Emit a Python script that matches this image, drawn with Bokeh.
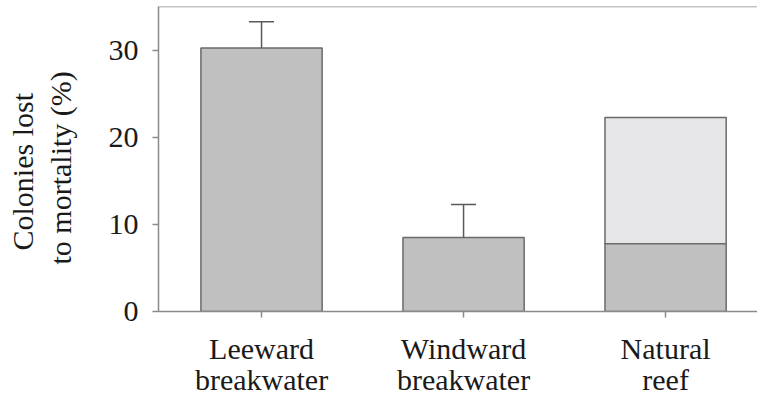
from bokeh.plotting import figure
from bokeh.models import Range1d, FixedTicker, Span, LinearAxis, Title
from bokeh.embed import file_html
from bokeh.resources import INLINE

# ---- data ----
cat_line1 = ["Leeward", "Windward", "Natural"]
cat_line2 = ["breakwater", "breakwater", "reef"]
positions = [0, 1, 2]
values = [30.3, 8.5, 7.8]          # dark (main) bar heights
errors = [3.0, 3.8, 0.0]           # upper error (SE)
reef_total = [22.3]                # natural reef stacked total
reef_pos = [2]
y_ticks = [0, 10, 20, 30]
y_title = ["Colonies lost", "to mortality (%)"]

FONT = "Liberation Serif"
AX = "#8a8a8a"
EDGE = "#6a6a6a"
TXT = "#1a1a1a"
Y_END = 35.06

p = figure(width=757, height=404, output_backend="svg", toolbar_location=None,
           x_range=Range1d(-0.51, 2.455), y_range=Range1d(0, Y_END),
           min_border_left=158, min_border_top=6, min_border_right=0, min_border_bottom=93)
p.outline_line_color = None
p.grid.grid_line_color = None
p.background_fill_color = "white"

# light stacked portion (natural reef)
p.vbar(x=reef_pos, bottom=[values[2]], top=reef_total, width=0.6,
       fill_color="#e6e6e8", line_color=EDGE, line_width=1.5)
# main bars
p.vbar(x=positions, bottom=0, top=values, width=0.6,
       fill_color="#c0c0c0", line_color=EDGE, line_width=1.5)

# error bars
ex = [x for x, e in zip(positions, errors) if e > 0]
ev = [v for v, e in zip(values, errors) if e > 0]
ee = [v + e for v, e in zip(values, errors) if e > 0]
p.segment(x0=ex, y0=ev, x1=ex, y1=ee, line_color="#5a5a5a", line_width=1.5)
p.segment(x0=[x - 0.062 for x in ex], y0=ee, x1=[x + 0.062 for x in ex], y1=ee,
          line_color="#5a5a5a", line_width=1.5)

# top border
p.add_layout(Span(location=Y_END, dimension="width", line_color=AX, line_width=1.5))


def style(ax):
    ax.axis_line_color = AX
    ax.axis_line_width = 1.5
    ax.major_tick_line_color = AX
    ax.major_tick_line_width = 1.5
    ax.major_tick_out = 6
    ax.major_tick_in = 0
    ax.minor_tick_line_color = None
    ax.major_label_text_font = FONT
    ax.major_label_text_font_size = "30px"
    ax.major_label_text_color = TXT


style(p.xaxis[0])
style(p.yaxis[0])
p.yaxis.ticker = FixedTicker(ticks=y_ticks)
p.yaxis.major_label_standoff = 14
p.xaxis.ticker = FixedTicker(ticks=positions)
p.xaxis.major_label_overrides = {pos: lab for pos, lab in zip(positions, cat_line1)}
p.xaxis.major_label_standoff = 14

# second line of category labels
ax2 = LinearAxis(ticker=FixedTicker(ticks=positions),
                 major_label_overrides={pos: lab for pos, lab in zip(positions, cat_line2)})
style(ax2)
ax2.axis_line_color = None
ax2.major_tick_line_color = None
ax2.major_tick_out = 0
ax2.major_label_standoff = -5
p.add_layout(ax2, "below")

# y title (two rotated lines); added inner line first
for txt, so, off in zip(reversed(y_title), [58, -52], [47, 61]):
    p.add_layout(Title(text=txt, align="left", text_font=FONT, text_font_size="30px",
                       text_font_style="normal", text_color=TXT, standoff=so, offset=off),
                 "left")

open("out.html", "w").write(file_html(p, INLINE))
